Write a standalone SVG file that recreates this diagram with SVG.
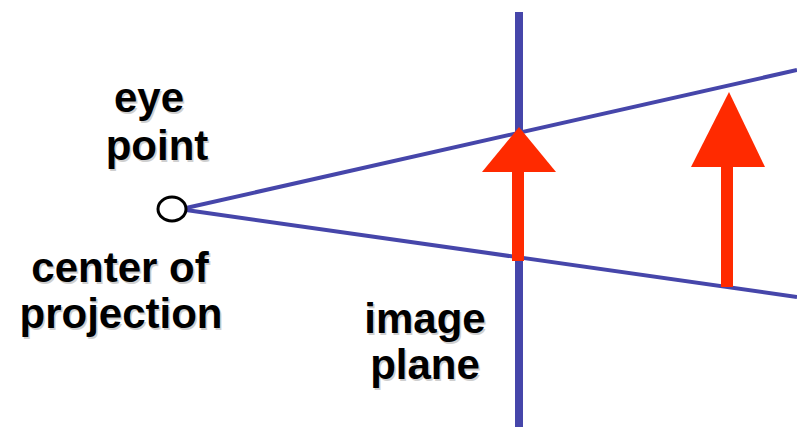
<svg xmlns="http://www.w3.org/2000/svg" width="797" height="427" viewBox="0 0 797 427">
<style>
.lbl{font-family:"Liberation Sans",Arial,sans-serif;font-weight:bold;font-size:42px;text-anchor:middle;fill:#000}
.sh{font-family:"Liberation Sans",Arial,sans-serif;font-weight:bold;font-size:42px;text-anchor:middle;fill:#cfcfcf}
.ray{stroke:#4646AA;stroke-width:4;fill:none}
.arrow{fill:#FF2A00}
</style>
<rect width="797" height="427" fill="#fff"/>
<g id="connectors">
<line class="ray" x1="186" y1="208" x2="797" y2="70"/>
<line class="ray" x1="186" y1="210" x2="797" y2="297"/>
</g>
<g id="image-plane">
<rect x="515" y="12" width="8" height="415" fill="#4646AA"/>
</g>
<g id="eye-point">
<ellipse cx="172" cy="209" rx="14" ry="12" fill="#fff" stroke="#000" stroke-width="3"/>
</g>
<g id="arrow-near">
<rect class="arrow" x="512" y="170" width="12" height="91"/>
<polygon class="arrow" points="519,127 556,172 482,172"/>
</g>
<g id="arrow-far">
<rect class="arrow" x="721" y="165" width="12" height="122"/>
<polygon class="arrow" points="729,92 765,167 691,167"/>
</g>
<g id="label-eye">
<text class="sh" x="150.5" y="113.5">eye</text>
<text class="sh" x="158.5" y="161.5">point</text>
<text class="lbl" x="149" y="112">eye</text>
<text class="lbl" x="157" y="160">point</text>
</g>
<g id="label-center">
<text class="sh" x="121.5" y="283.5">center of</text>
<text class="sh" x="122.5" y="329.5">projection</text>
<text class="lbl" x="120" y="282">center of</text>
<text class="lbl" x="121" y="328">projection</text>
</g>
<g id="label-image">
<text class="sh" x="426.5" y="334.5">image</text>
<text class="sh" x="426.5" y="380.5">plane</text>
<text class="lbl" x="425" y="333">image</text>
<text class="lbl" x="425" y="379">plane</text>
</g>
</svg>
